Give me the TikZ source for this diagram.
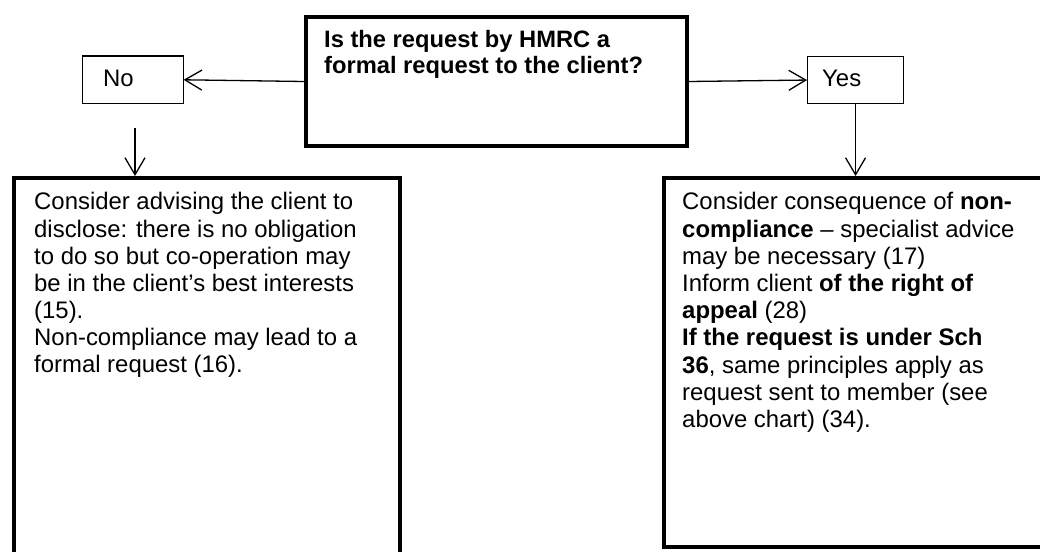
\documentclass[tikz,border=0pt]{standalone}
\usepackage{fontspec}
\setmainfont{Liberation Sans}
\usetikzlibrary{arrows.meta}
\tikzset{
  thickbox/.style={draw=black, line width=4bp, inner sep=0pt},
  thinbox/.style={draw=black, line width=1.1bp, inner sep=0pt},
  conn/.style={draw=black, line width=1.3bp, -{Straight Barb[length=17bp,width=20bp,line width=1.3bp]}},
  txt/.style={anchor=base west, align=left, inner sep=0pt, font=\fontsize{24}{27.3}\selectfont},
}
\begin{document}
\begin{tikzpicture}[x=1bp,y=-1bp]
\useasboundingbox (0,0) rectangle (1040,552);
\clip (0,0) rectangle (1040,552);
% boxes
\node[thickbox, minimum width=381bp, minimum height=129bp, anchor=north west] (q) at (304,15) {};
\node[thinbox, minimum width=100.5bp, minimum height=47.5bp, anchor=north west] (no) at (82,55.5) {};
\node[thinbox, minimum width=96bp, minimum height=47bp, anchor=north west] (yes) at (807,56) {};
\node[thickbox, minimum width=386bp, minimum height=440bp, anchor=north west] (lbox) at (12,176) {};
\node[thickbox, minimum width=440bp, minimum height=369bp, anchor=north west] (rbox) at (662,176) {};
% texts (anchor = baseline of the last line)
\node[txt, font=\bfseries\fontsize{23.8}{27}\selectfont] (qt) at (324,74) {Is the request by HMRC a\\formal request to the client?};
\node[txt] (not) at (103,87) {No};
\node[txt] (yest) at (822,87) {Yes};
\node[txt] (lt) at (34,373) {Consider advising the client to\\disclose: there is no obligation\\to do so but co-operation may\\be in the client’s best interests\\(15).\\Non-compliance may lead to a\\formal request (16).};
\node[txt] (rt) at (682,427.4) {Consider consequence of \textbf{non-}\\\textbf{compliance} – specialist advice\\may be necessary (17)\\Inform client \textbf{of the right of}\\\textbf{appeal} (28)\\\textbf{If the request is under Sch}\\\textbf{36}, same principles apply as\\request sent to member (see\\above chart) (34).};
% connectors
\coordinate (nostart) at (135,128);
\draw[conn] (q.west) -- (no.east);
\draw[conn] (q.east) -- (yes.west);
\draw[conn] (nostart) -- (nostart |- lbox.north);
\draw[conn] (yes.south) -- (yes.south |- rbox.north);
\end{tikzpicture}
\end{document}
